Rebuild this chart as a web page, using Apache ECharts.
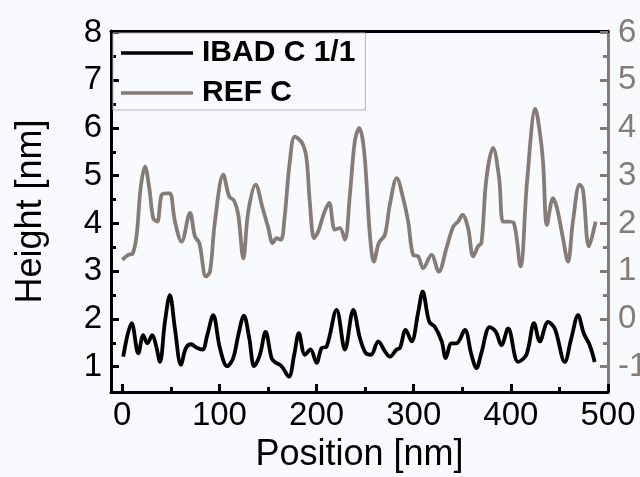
<!DOCTYPE html>
<html>
<head>
<meta charset="utf-8">
<script src="https://cdn.jsdelivr.net/npm/echarts@6/dist/echarts.min.js"></script>
<style>
  html, body { margin: 0; padding: 0; background: #f9fafd; }
  #chart { width: 640px; height: 477px; }
</style>
</head>
<body>
<div id="chart"></div>
<script>
// IBAD C 1/1 profile (left axis)
const xIbad = [1, 9.7, 16.5, 21.6, 25.8, 30.9, 34.7, 38.8, 43.9, 49,
  54.2, 60.4, 65.5, 70.7, 77.2, 82.7, 87.5, 93.6, 100.5, 108,
  114.2, 119.4, 125.2, 130.7, 135.8, 141.7, 147.5, 153.7, 157.1, 164,
  171.5, 177, 181.8, 188, 193.8, 200, 205.2, 210.3, 220.6, 229.2,
  237.8, 244.6, 250.5, 256, 263.5, 270.4, 275.5, 282.4, 285.8, 291.7,
  297.8, 304.7, 309.2, 316, 321.9, 328.8, 333, 338.9, 344, 352.6,
  359.4, 364.6, 369.7, 378.3, 384.5, 390.3, 397.2, 407.5, 416, 423.9,
  429.8, 438.3, 445.2, 455.5, 462.3, 469.2, 475, 481.2, 486.3]
const yIbad = [1.21, 1.91, 1.28, 1.66, 1.49, 1.66, 1.45, 1.10, 1.94, 2.50,
  1.80, 1.04, 1.39, 1.47, 1.39, 1.36, 1.66, 2.08, 1.39, 1.01,
  1.18, 1.66, 2.07, 1.60, 1.01, 1.25, 1.73, 1.18, 1.10, 1.01,
  0.79, 1.25, 1.70, 1.25, 1.36, 1.08, 1.39, 1.42, 2.19, 1.36,
  2.19, 1.60, 1.29, 1.25, 1.53, 1.32, 1.21, 1.36, 1.39, 1.77,
  1.53, 2.15, 2.57, 1.94, 1.83, 1.53, 1.18, 1.49, 1.49, 1.77,
  1.25, 0.97, 1.29, 1.83, 1.73, 1.45, 1.80, 1.10, 1.25, 1.91,
  1.53, 1.94, 1.80, 1.10, 1.60, 2.08, 1.70, 1.45, 1.10]

// REF C profile (right axis)
const xRef = [0, 6.2, 10.7, 14.8, 18.9, 23.4, 27.8, 31.9, 36, 40.5,
  45.6, 49.1, 54.2, 61.1, 69.7, 74.8, 79.3, 86.2, 90.3, 95.4,
  104, 110.2, 115, 119.4, 124.6, 129.7, 137.3, 144.5, 150.4, 154.8,
  158.9, 163.3, 166.7, 172.5, 177.7, 185.2, 189.6, 193, 197.5, 201.7,
  207.8, 213, 218.8, 224, 229.1, 234.3, 239.4, 243.9, 249, 254.9,
  259, 264.1, 270.3, 275.4, 282.6, 289.1, 294.3, 299.4, 304.6, 309.7,
  318.3, 325.8, 333.7, 340.6, 345.7, 350.2, 356, 361.2, 366.3, 369.7,
  374.9, 381.7, 387.9, 392, 397.2, 403, 409.9, 416.7, 425.3, 429.7,
  433.1, 437.2, 443.4, 447.5, 453, 458.8, 463.9, 470.8, 474.2, 480.4,
  487.2]
const yRef = [1.24, 1.34, 1.37, 1.76, 2.74, 3.19, 2.74, 2.11, 2.04, 2.60,
  2.63, 2.63, 2.04, 1.62, 2.22, 1.73, 1.59, 0.89, 0.99, 2.04,
  3.02, 2.56, 2.48, 2.18, 1.27, 2.25, 2.81, 2.32, 1.90, 1.59,
  1.69, 1.66, 2.04, 3.30, 3.82, 3.68, 3.37, 2.46, 1.69, 1.83,
  2.22, 2.43, 1.87, 1.90, 1.66, 2.60, 3.72, 4.00, 3.51, 1.76,
  1.20, 1.59, 1.76, 2.39, 2.95, 2.53, 2.04, 1.34, 1.31, 1.06,
  1.34, 0.99, 1.48, 1.93, 2.04, 2.18, 1.90, 1.31, 1.52, 1.59,
  2.95, 3.58, 2.95, 2.04, 2.04, 2.01, 1.10, 2.88, 4.40, 3.93,
  3.30, 1.97, 2.53, 2.32, 1.76, 1.20, 2.04, 2.81, 2.71, 1.52,
  2.04]

const xMajor = [0, 100, 200, 300, 400, 500]
const xMinor = [50, 150, 250, 350, 450]
const leftMajor = [1, 2, 3, 4, 5, 6, 7, 8]
const leftMinor = [1.5, 2.5, 3.5, 4.5, 5.5, 6.5, 7.5]
const rightMajor = [-1, 0, 1, 2, 3, 4, 5, 6]
const rightMinor = [-0.5, 0.5, 1.5, 2.5, 3.5, 4.5, 5.5]

const BLACK = '#000'
const GRAY = '#857c77'
const FONT = 'Liberation Sans, Arial, sans-serif'

const zip = (xs, ys) => xs.map((x, i) => [x, ys[i]])

const myChart = echarts.init(document.getElementById('chart'))

const options = {
  backgroundColor: '#f9fafd',
  animation: false,
  grid: { left: 111, right: 32, top: 31, bottom: 85, outerBoundsMode: 'none' },
  legend: {
    orient: 'vertical',
    left: 113,
    top: 33,
    padding: [5, 10, 2, 8],
    borderColor: '#b4b4b4',
    borderWidth: 1,
    icon: 'rect',
    itemWidth: 72,
    itemHeight: 3.5,
    itemGap: 10,
    textStyle: {
      fontFamily: FONT,
      fontSize: 30,
      fontWeight: 'bold',
      color: '#000',
      lineHeight: 30,
      padding: [0, 0, 0, 4],
    },
    data: ['IBAD C 1/1', 'REF C'],
  },
  xAxis: [
    {
      type: 'value',
      min: -11.6,
      max: 500,
      position: 'bottom',
      splitLine: { show: false },
      axisLine: { onZero: false, lineStyle: { color: BLACK, width: 3 } },
      axisTick: { inside: true, length: 8, lineStyle: { width: 3, color: BLACK }, customValues: xMajor },
      axisLabel: { customValues: xMajor, fontFamily: FONT, fontSize: 33, color: '#000', margin: 7 },
      name: 'Position [nm]',
      nameLocation: 'middle',
      nameGap: 40,
      nameTextStyle: { fontFamily: FONT, fontSize: 36, color: '#000' },
    },
    {
      type: 'value',
      min: -11.6,
      max: 500,
      position: 'bottom',
      splitLine: { show: false },
      axisLine: { show: false, onZero: false },
      axisTick: { inside: true, length: 5, lineStyle: { width: 3, color: BLACK }, customValues: xMinor },
      axisLabel: { show: false },
    },
    {
      type: 'value',
      min: -11.6,
      max: 500,
      position: 'top',
      splitLine: { show: false },
      axisLine: { onZero: false, lineStyle: { color: BLACK, width: 3 } },
      axisTick: { show: false },
      axisLabel: { show: false },
    },
  ],
  yAxis: [
    {
      type: 'value',
      min: 0.47,
      max: 8.03,
      position: 'left',
      splitLine: { show: false },
      axisLine: { onZero: false, lineStyle: { color: BLACK, width: 3 } },
      axisTick: { inside: true, length: 8, lineStyle: { width: 3, color: BLACK }, customValues: leftMajor },
      axisLabel: { customValues: leftMajor, fontFamily: FONT, fontSize: 33, color: '#000', margin: 9 },
      name: 'Height [nm]',
      nameLocation: 'middle',
      nameGap: 62,
      nameTextStyle: { fontFamily: FONT, fontSize: 36, color: '#000' },
    },
    {
      type: 'value',
      min: 0.47,
      max: 8.03,
      position: 'left',
      splitLine: { show: false },
      axisLine: { show: false, onZero: false },
      axisTick: { inside: true, length: 5, lineStyle: { width: 3, color: BLACK }, customValues: leftMinor },
      axisLabel: { show: false },
    },
    {
      type: 'value',
      min: -1.53,
      max: 6.03,
      position: 'right',
      splitLine: { show: false },
      axisLine: { onZero: false, lineStyle: { color: GRAY, width: 3 } },
      axisTick: { inside: true, length: 8, lineStyle: { width: 3, color: GRAY }, customValues: rightMajor },
      axisLabel: { customValues: rightMajor, fontFamily: FONT, fontSize: 33, color: GRAY, margin: 10 },
    },
    {
      type: 'value',
      min: -1.53,
      max: 6.03,
      position: 'right',
      splitLine: { show: false },
      axisLine: { show: false, onZero: false },
      axisTick: { inside: true, length: 5, lineStyle: { width: 3, color: GRAY }, customValues: rightMinor },
      axisLabel: { show: false },
    },
  ],
  series: [
    {
      name: 'IBAD C 1/1',
      type: 'line',
      xAxisIndex: 0,
      yAxisIndex: 0,
      data: zip(xIbad, yIbad),
      symbol: 'none',
      smooth: 0.35,
      color: BLACK,
      lineStyle: { color: BLACK, width: 3.8 },
    },
    {
      name: 'REF C',
      type: 'line',
      xAxisIndex: 0,
      yAxisIndex: 2,
      data: zip(xRef, yRef),
      symbol: 'none',
      smooth: 0.35,
      color: GRAY,
      lineStyle: { color: GRAY, width: 3.8 },
    },
  ],
}
myChart.setOption(options)
</script>
</body>
</html>
